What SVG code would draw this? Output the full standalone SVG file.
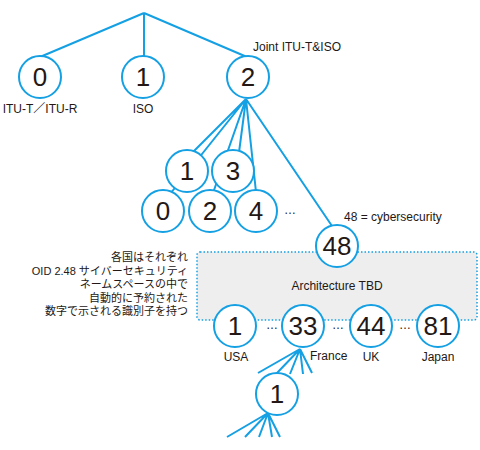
<svg xmlns="http://www.w3.org/2000/svg" width="480" height="450" viewBox="0 0 480 450">
<style>
.ln{stroke:#14a0e3;stroke-width:2;fill:none;stroke-linecap:butt}
.nd{fill:#fff;stroke:#14a0e3;stroke-width:2}
.num{font-family:"Liberation Sans",Arial,sans-serif;font-size:26px;fill:#231815;text-anchor:middle}
.lb{font-family:"Liberation Sans",Arial,"Noto Sans CJK JP",sans-serif;font-size:12px;fill:#231815}
.jp{font-family:"Liberation Sans","Noto Sans CJK JP",sans-serif;font-size:11px;fill:#231815;text-anchor:end}
.c{text-anchor:middle}
</style>
<rect width="480" height="450" fill="#fff"/>
<g id="box">
<rect x="197" y="252" width="280" height="68" rx="3" fill="#eeeeee" stroke="#14a0e3" stroke-width="1.5" stroke-dasharray="1.5 2"/>
<text class="lb c" x="337" y="290">Architecture TBD</text>
</g>
<g id="connectors">
<path class="ln" d="M144 13L40 57M144 13V57M144 13L247 57"/>
<path class="ln" d="M246 99L185 160M246 99L170 194M246 99L238 160M246 99L213 193M246 99L256 192M246 99L332 226"/>
<path class="ln" d="M300 349L258 373M300 349L277 373M300 349L290 374M300 349L303 374M300 349L312 373"/>
<path class="ln" d="M268 413L227 437M268 413L245 437M268 413L259 437M268 413L272 437M268 413L280 437"/>
</g>
<g id="n0"><circle class="nd" cx="40" cy="77" r="21"/><text class="num" x="40" y="86">0</text><text class="lb c" x="40" y="113">ITU-T／ITU-R</text></g>
<g id="n1"><circle class="nd" cx="143" cy="77" r="21"/><text class="num" x="143" y="86">1</text><text class="lb c" x="143" y="113">ISO</text></g>
<g id="n2"><circle class="nd" cx="248" cy="77" r="21"/><text class="num" x="248" y="86">2</text><text class="lb" x="253" y="51">Joint ITU-T&amp;ISO</text></g>
<g id="n2-1"><circle class="nd" cx="187" cy="171" r="21"/><text class="num" x="187" y="180">1</text></g>
<g id="n2-3"><circle class="nd" cx="233" cy="171" r="21"/><text class="num" x="233" y="180">3</text></g>
<g id="n2-0"><circle class="nd" cx="163" cy="211" r="21"/><text class="num" x="163" y="220">0</text></g>
<g id="n2-2"><circle class="nd" cx="210" cy="211" r="21"/><text class="num" x="210" y="220">2</text></g>
<g id="n2-4"><circle class="nd" cx="256" cy="211" r="21"/><text class="num" x="256" y="220">4</text></g>
<text class="lb" x="284" y="214">…</text>
<g id="n48"><circle class="nd" cx="337" cy="246" r="21"/><text class="num" x="337" y="255">48</text><text class="lb" x="344" y="221">48 = cybersecurity</text></g>
<g id="note">
<text class="jp" x="188" y="261">各国はそれぞれ</text>
<text class="jp" x="188" y="274.5">OID 2.48 サイバーセキュリティ</text>
<text class="jp" x="188" y="288">ネームスペースの中で</text>
<text class="jp" x="188" y="301.5">自動的に予約された</text>
<text class="jp" x="188" y="315">数字で示される識別子を持つ</text>
</g>
<g id="usa"><circle class="nd" cx="235" cy="326" r="21"/><text class="num" x="235" y="335">1</text><text class="lb c" x="236" y="361">USA</text></g>
<g id="france"><circle class="nd" cx="303" cy="326" r="21"/><text class="num" x="303" y="335">33</text><text class="lb" x="310" y="360">France</text></g>
<g id="uk"><circle class="nd" cx="371" cy="326" r="21"/><text class="num" x="371" y="335">44</text><text class="lb c" x="371" y="361">UK</text></g>
<g id="japan"><circle class="nd" cx="438" cy="326" r="21"/><text class="num" x="438" y="335">81</text><text class="lb c" x="438" y="361">Japan</text></g>
<text class="lb c" x="272" y="329">…</text>
<text class="lb c" x="338" y="329">…</text>
<text class="lb c" x="405" y="329">…</text>
<g id="fr-1"><circle class="nd" cx="277" cy="394" r="21"/><text class="num" x="277" y="403">1</text></g>
</svg>
